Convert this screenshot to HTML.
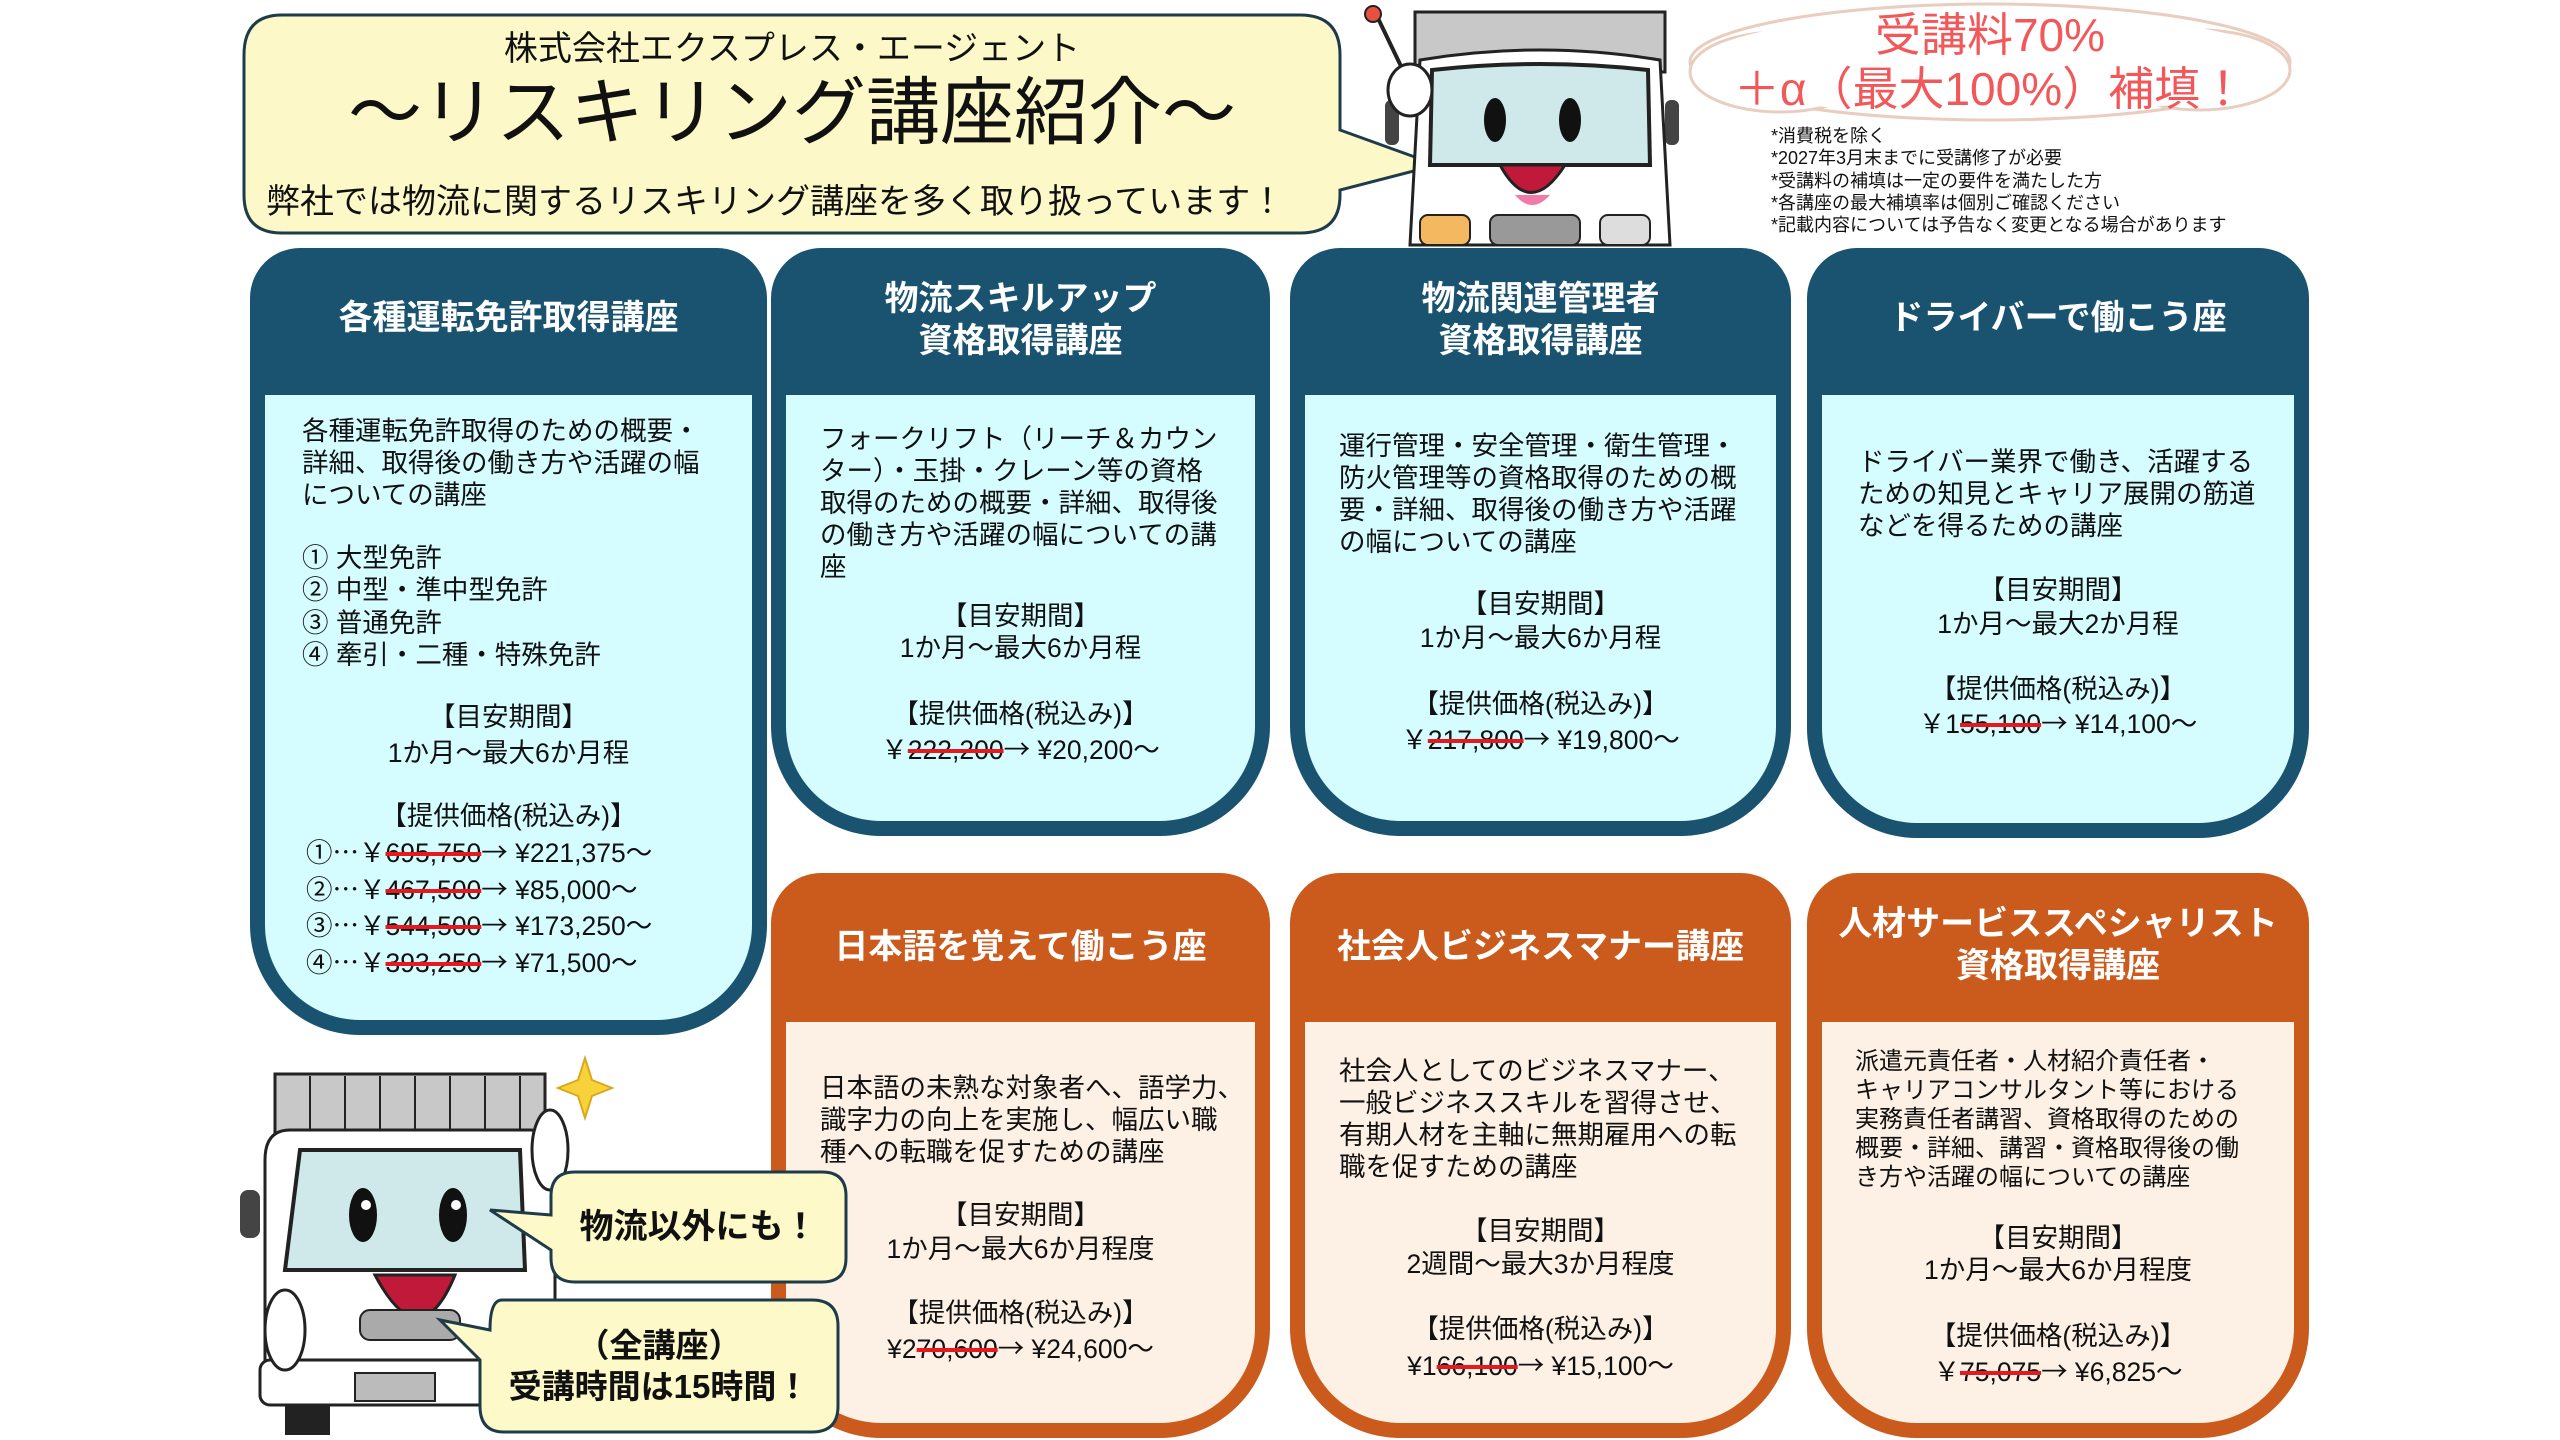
<!DOCTYPE html>
<html><head><meta charset="utf-8">
<style>
*{margin:0;padding:0;box-sizing:border-box}
body{width:2560px;height:1440px;background:#fff;position:relative;overflow:hidden;font-family:"Liberation Sans","Noto Sans CJK JP",sans-serif;color:#111}
.abs{position:absolute}
.card{position:absolute;border-radius:50px 50px 110px 110px}
.teal{background:#1a5370}
.orng{background:#cb5a1d}
.inner{position:absolute;left:15px;right:15px;bottom:15px;border-radius:0 0 95px 95px}
.teal .inner{background:#d5fcff}
.orng .inner{background:#fdf0e4}
.hd{position:absolute;left:0;right:0;text-align:center;color:#fff;font-weight:bold;font-size:34px;line-height:42px}
.t{position:absolute;font-size:26.5px;line-height:32px;white-space:nowrap}
.c{position:absolute;left:0;right:0;text-align:center;font-size:26.5px;line-height:34px;white-space:nowrap}
s{text-decoration:line-through;text-decoration-color:#e8191e;text-decoration-thickness:4px}
.a{font-family:"Noto Sans CJK JP",sans-serif}
.bub{position:absolute;background:#fdf9c8;border:3px solid #1e3b4a;text-align:center}
</style></head><body>

<svg class="abs" style="left:0;top:0" width="2560" height="1440">
  <path d="M282,15 H1300 Q1340,15 1340,55 V130 L1437,165 L1340,190 V195 Q1340,233 1300,233 H282 Q244,233 244,195 V55 Q244,15 282,15 Z" fill="#fcf8c8" stroke="#1e3b4a" stroke-width="3"/>
  <g fill="#fff" stroke="#e9cdbf" stroke-width="3">
    <ellipse cx="1990" cy="62" rx="300" ry="58"/>
    <ellipse cx="1780" cy="72" rx="90" ry="40"/>
    <ellipse cx="2200" cy="70" rx="90" ry="40"/>
  </g>
  <ellipse cx="1990" cy="64" rx="292" ry="52" fill="#fff"/>
  <line x1="1375" y1="12" x2="1410" y2="85" stroke="#222" stroke-width="4"/>
  <circle cx="1373" cy="14" r="8" fill="#e85040" stroke="#222" stroke-width="2"/>
  <rect x="1415" y="12" width="250" height="60" fill="#c8c8c8" stroke="#222" stroke-width="3"/>
  <rect x="1385" y="100" width="14" height="45" rx="6" fill="#444"/>
  <rect x="1665" y="100" width="14" height="45" rx="6" fill="#444"/>
  <path d="M1420,60 Q1540,40 1660,60 L1670,245 L1410,245 Z" fill="#fff" stroke="#222" stroke-width="3"/>
  <path d="M1432,70 Q1540,58 1648,70 L1650,165 L1430,165 Z" fill="#cfe8ea" stroke="#222" stroke-width="4"/>
  <ellipse cx="1495" cy="120" rx="11" ry="22" fill="#111"/><ellipse cx="1570" cy="120" rx="11" ry="22" fill="#111"/>
  <path d="M1500,165 Q1530,220 1565,165 Z" fill="#c0193a" stroke="#222" stroke-width="3"/>
  <path d="M1515,195 Q1532,215 1550,195 Z" fill="#f27aa8"/>
  <ellipse cx="1410" cy="90" rx="22" ry="26" fill="#fff" stroke="#222" stroke-width="3"/>
  <rect x="1420" y="215" width="50" height="30" rx="8" fill="#f4b860" stroke="#222" stroke-width="2"/>
  <rect x="1490" y="215" width="90" height="30" rx="8" fill="#999" stroke="#222" stroke-width="2"/>
  <rect x="1600" y="215" width="50" height="30" rx="8" fill="#ddd" stroke="#222" stroke-width="2"/>
  <rect x="275" y="1074" width="270" height="60" fill="#c8c8c8" stroke="#222" stroke-width="3"/>
  <g stroke="#222" stroke-width="2"><line x1="310" y1="1076" x2="310" y2="1132"/><line x1="345" y1="1076" x2="345" y2="1132"/><line x1="380" y1="1076" x2="380" y2="1132"/><line x1="415" y1="1076" x2="415" y2="1132"/><line x1="450" y1="1076" x2="450" y2="1132"/><line x1="485" y1="1076" x2="485" y2="1132"/><line x1="520" y1="1076" x2="520" y2="1132"/></g>
  <rect x="240" y="1190" width="20" height="48" rx="8" fill="#444"/>
  <path d="M290,1130 H530 Q555,1130 555,1160 V1400 H265 V1160 Q265,1130 290,1130 Z" fill="#fff" stroke="#222" stroke-width="3"/>
  <path d="M300,1150 H520 L525,1270 H285 Z" fill="#cfe8ea" stroke="#222" stroke-width="4"/>
  <ellipse cx="363" cy="1215" rx="14" ry="27" fill="#111"/><ellipse cx="453" cy="1215" rx="14" ry="27" fill="#111"/>
  <circle cx="366" cy="1205" r="5" fill="#fff"/><circle cx="456" cy="1205" r="5" fill="#fff"/>
  <path d="M375,1275 Q420,1360 455,1275 Z" fill="#c0193a" stroke="#222" stroke-width="3"/>
  <path d="M395,1310 Q420,1340 440,1310 Z" fill="#f27aa8"/>
  <rect x="260" y="1360" width="300" height="45" rx="10" fill="#fff" stroke="#222" stroke-width="3"/>
  <rect x="355" y="1373" width="80" height="28" fill="#bbb" stroke="#222" stroke-width="2"/>
  <rect x="285" y="1405" width="45" height="30" fill="#222"/>
  <rect x="360" y="1310" width="100" height="30" rx="10" fill="#aaa" stroke="#222" stroke-width="2"/>
  <path d="M585,1058 L592,1080 L612,1088 L592,1096 L585,1118 L578,1096 L558,1088 L578,1080 Z" fill="#f8d23a" stroke="#d9a81d" stroke-width="2"/>
  <ellipse cx="550" cy="1150" rx="18" ry="40" fill="#fff" stroke="#222" stroke-width="3"/>
  <ellipse cx="285" cy="1330" rx="20" ry="40" fill="#fff" stroke="#222" stroke-width="3"/>
</svg>

<div class="abs" style="left:244px;top:28px;width:1096px;text-align:center;font-size:34px;line-height:42px">株式会社エクスプレス・エージェント</div>
<div class="abs" style="left:244px;top:68px;width:1096px;text-align:center;font-size:74px;line-height:90px">～リスキリング講座紹介～</div>
<div class="abs" style="left:266px;top:180px;width:1080px;text-align:left;font-size:34px;line-height:44px">弊社では物流に関するリスキリング講座を多く取り扱っています！</div>

<div class="abs" style="left:1690px;top:8px;width:600px;text-align:center;color:#f2585a;font-size:46px;line-height:54px">受講料70%<br>＋α（最大100%）補填！</div>
<div class="abs" style="left:1771px;top:125px;font-size:18px;line-height:22.3px;white-space:nowrap">*消費税を除く<br>*2027年3月末までに受講修了が必要<br>*受講料の補填は一定の要件を満たした方<br>*各講座の最大補填率は個別ご確認ください<br>*記載内容については予告なく変更となる場合があります</div>

<div class="card teal" style="left:250px;top:248px;width:517px;height:787px">
  <div class="inner" style="top:147px"></div>
  <div class="hd" style="top:49px">各種運転免許取得講座</div>
  <div class="t" style="left:52px;top:167px">各種運転免許取得のための概要・<br>詳細、取得後の働き方や活躍の幅<br>についての講座</div>
  <div class="t" style="left:52px;top:294px;line-height:32.4px">① 大型免許<br>② 中型・準中型免許<br>③ 普通免許<br>④ 牽引・二種・特殊免許</div>
  <div class="c" style="top:452px">【目安期間】</div>
  <div class="c" style="top:488px">1か月～最大6か月程</div>
  <div class="c" style="top:551px">【提供価格(税込み)】</div>
  <div class="t" style="left:56px;top:586px;line-height:33.7px">①<span class="a">…</span>￥<s>695,750</s><span class="a">→</span> ¥221,375～<br>②<span class="a">…</span>￥<s>467,500</s><span class="a">→</span> ¥85,000～<br>③<span class="a">…</span>￥<s>544,500</s><span class="a">→</span> ¥173,250～<br>④<span class="a">…</span>￥<s>393,250</s><span class="a">→</span> ¥71,500～</div>
</div>

<div class="card teal" style="left:771px;top:248px;width:499px;height:588px">
  <div class="inner" style="top:147px"></div>
  <div class="hd" style="top:30px">物流スキルアップ<br>資格取得講座</div>
  <div class="t" style="left:49px;top:175px">フォークリフト（リーチ＆カウン<br>ター）・玉掛・クレーン等の資格<br>取得のための概要・詳細、取得後<br>の働き方や活躍の幅についての講<br>座</div>
  <div class="c" style="top:351px">【目安期間】</div>
  <div class="c" style="top:383px">1か月～最大6か月程</div>
  <div class="c" style="top:449px">【提供価格(税込み)】</div>
  <div class="c" style="top:483px">￥<s>222,200</s><span class="a">→</span> ¥20,200～</div>
</div>

<div class="card teal" style="left:1290px;top:248px;width:501px;height:588px">
  <div class="inner" style="top:147px"></div>
  <div class="hd" style="top:30px">物流関連管理者<br>資格取得講座</div>
  <div class="t" style="left:49px;top:182px">運行管理・安全管理・衛生管理・<br>防火管理等の資格取得のための概<br>要・詳細、取得後の働き方や活躍<br>の幅についての講座</div>
  <div class="c" style="top:339px">【目安期間】</div>
  <div class="c" style="top:373px">1か月～最大6か月程</div>
  <div class="c" style="top:439px">【提供価格(税込み)】</div>
  <div class="c" style="top:473px">￥<s>217,800</s><span class="a">→</span> ¥19,800～</div>
</div>

<div class="card teal" style="left:1807px;top:248px;width:502px;height:590px">
  <div class="inner" style="top:147px"></div>
  <div class="hd" style="top:49px">ドライバーで働こう座</div>
  <div class="t" style="left:51px;top:198px">ドライバー業界で働き、活躍する<br>ための知見とキャリア展開の筋道<br>などを得るための講座</div>
  <div class="c" style="top:325px">【目安期間】</div>
  <div class="c" style="top:359px">1か月～最大2か月程</div>
  <div class="c" style="top:424px">【提供価格(税込み)】</div>
  <div class="c" style="top:457px">￥1<s>55,100</s><span class="a">→</span> ¥14,100～</div>
</div>

<div class="card orng" style="left:771px;top:873px;width:499px;height:565px">
  <div class="inner" style="top:149px"></div>
  <div class="hd" style="top:53px">日本語を覚えて働こう座</div>
  <div class="t" style="left:49px;top:199px">日本語の未熟な対象者へ、語学力、<br>識字力の向上を実施し、幅広い職<br>種への転職を促すための講座</div>
  <div class="c" style="top:325px">【目安期間】</div>
  <div class="c" style="top:359px">1か月～最大6か月程度</div>
  <div class="c" style="top:423px">【提供価格(税込み)】</div>
  <div class="c" style="top:457px">¥2<s>70,600</s><span class="a">→</span> ¥24,600～</div>
</div>

<div class="card orng" style="left:1290px;top:873px;width:501px;height:565px">
  <div class="inner" style="top:149px"></div>
  <div class="hd" style="top:53px">社会人ビジネスマナー講座</div>
  <div class="t" style="left:49px;top:182px">社会人としてのビジネスマナー、<br>一般ビジネススキルを習得させ、<br>有期人材を主軸に無期雇用への転<br>職を促すための講座</div>
  <div class="c" style="top:341px">【目安期間】</div>
  <div class="c" style="top:374px">2週間～最大3か月程度</div>
  <div class="c" style="top:439px">【提供価格(税込み)】</div>
  <div class="c" style="top:474px">¥1<s>66,100</s><span class="a">→</span> ¥15,100～</div>
</div>

<div class="card orng" style="left:1807px;top:873px;width:502px;height:565px">
  <div class="inner" style="top:149px"></div>
  <div class="hd" style="top:30px">人材サービススペシャリスト<br>資格取得講座</div>
  <div class="t" style="left:48px;top:174px;font-size:24px;line-height:29px">派遣元責任者・人材紹介責任者・<br>キャリアコンサルタント等における<br>実務責任者講習、資格取得のための<br>概要・詳細、講習・資格取得後の働<br>き方や活躍の幅についての講座</div>
  <div class="c" style="top:348px">【目安期間】</div>
  <div class="c" style="top:380px">1か月～最大6か月程度</div>
  <div class="c" style="top:446px">【提供価格(税込み)】</div>
  <div class="c" style="top:480px">￥<s>75,075</s><span class="a">→</span> ¥6,825～</div>
</div>

<svg class="abs" style="left:0;top:0" width="2560" height="1440">
  <path d="M575,1172 H822 Q846,1172 846,1196 V1258 Q846,1282 822,1282 H575 Q551,1282 551,1258 V1250 L490,1210 L551,1215 V1196 Q551,1172 575,1172 Z" fill="#fdf9c8" stroke="#1e3b4a" stroke-width="3"/>
  <path d="M502,1300 H812 Q838,1300 838,1326 V1406 Q838,1432 812,1432 H504 Q480,1432 480,1406 V1360 L440,1320 L490,1330 Q490,1300 502,1300 Z" fill="#fdf9c8" stroke="#1e3b4a" stroke-width="3"/>
</svg>
<div class="abs" style="left:551px;top:1205px;width:295px;text-align:center;font-size:34px;line-height:44px;font-weight:bold">物流以外にも！</div>
<div class="abs" style="left:480px;top:1325px;width:358px;text-align:center;font-size:33px;line-height:41px;font-weight:bold">（全講座）<br>受講時間は15時間！</div>

</body></html>
